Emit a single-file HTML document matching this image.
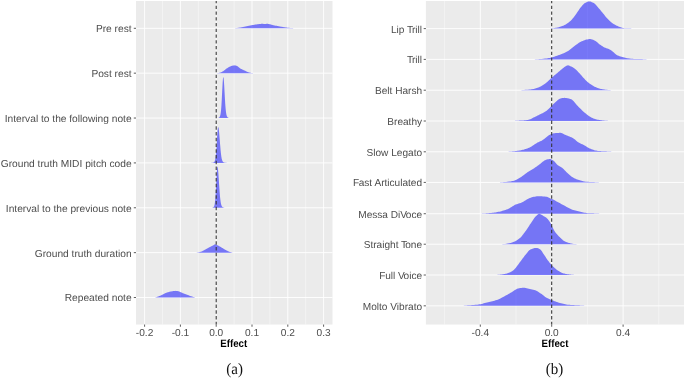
<!DOCTYPE html>
<html><head><meta charset="utf-8"><title>Effect ridgeline plots</title>
<style>html,body{margin:0;padding:0;background:#fff}body{width:685px;height:378px;overflow:hidden}svg{display:block}</style>
</head><body>
<svg width="685" height="378" viewBox="0 0 685 378">
<rect width="685" height="378" fill="#fff"/>
<rect x="136.00" y="1.00" width="196.50" height="323.55" fill="#ebebeb"/>
<line x1="162.50" x2="162.50" y1="1.00" y2="324.55" stroke="#fff" stroke-width="0.5" stroke-opacity="0.85"/>
<line x1="198.30" x2="198.30" y1="1.00" y2="324.55" stroke="#fff" stroke-width="0.5" stroke-opacity="0.85"/>
<line x1="234.10" x2="234.10" y1="1.00" y2="324.55" stroke="#fff" stroke-width="0.5" stroke-opacity="0.85"/>
<line x1="269.90" x2="269.90" y1="1.00" y2="324.55" stroke="#fff" stroke-width="0.5" stroke-opacity="0.85"/>
<line x1="305.70" x2="305.70" y1="1.00" y2="324.55" stroke="#fff" stroke-width="0.5" stroke-opacity="0.85"/>
<line x1="144.60" x2="144.60" y1="1.00" y2="324.55" stroke="#fff" stroke-width="0.9"/>
<line x1="180.40" x2="180.40" y1="1.00" y2="324.55" stroke="#fff" stroke-width="0.9"/>
<line x1="216.20" x2="216.20" y1="1.00" y2="324.55" stroke="#fff" stroke-width="0.9"/>
<line x1="252.00" x2="252.00" y1="1.00" y2="324.55" stroke="#fff" stroke-width="0.9"/>
<line x1="287.80" x2="287.80" y1="1.00" y2="324.55" stroke="#fff" stroke-width="0.9"/>
<line x1="323.60" x2="323.60" y1="1.00" y2="324.55" stroke="#fff" stroke-width="0.9"/>
<line x1="136.00" x2="332.50" y1="28.30" y2="28.30" stroke="#fff" stroke-width="0.9"/>
<line x1="136.00" x2="332.50" y1="73.17" y2="73.17" stroke="#fff" stroke-width="0.9"/>
<line x1="136.00" x2="332.50" y1="118.04" y2="118.04" stroke="#fff" stroke-width="0.9"/>
<line x1="136.00" x2="332.50" y1="162.91" y2="162.91" stroke="#fff" stroke-width="0.9"/>
<line x1="136.00" x2="332.50" y1="207.78" y2="207.78" stroke="#fff" stroke-width="0.9"/>
<line x1="136.00" x2="332.50" y1="252.65" y2="252.65" stroke="#fff" stroke-width="0.9"/>
<line x1="136.00" x2="332.50" y1="297.52" y2="297.52" stroke="#fff" stroke-width="0.9"/>
<rect x="425.90" y="1.00" width="258.10" height="323.55" fill="#ebebeb"/>
<line x1="444.60" x2="444.60" y1="1.00" y2="324.55" stroke="#fff" stroke-width="0.5" stroke-opacity="0.85"/>
<line x1="516.00" x2="516.00" y1="1.00" y2="324.55" stroke="#fff" stroke-width="0.5" stroke-opacity="0.85"/>
<line x1="587.40" x2="587.40" y1="1.00" y2="324.55" stroke="#fff" stroke-width="0.5" stroke-opacity="0.85"/>
<line x1="658.80" x2="658.80" y1="1.00" y2="324.55" stroke="#fff" stroke-width="0.5" stroke-opacity="0.85"/>
<line x1="480.30" x2="480.30" y1="1.00" y2="324.55" stroke="#fff" stroke-width="0.9"/>
<line x1="551.70" x2="551.70" y1="1.00" y2="324.55" stroke="#fff" stroke-width="0.9"/>
<line x1="623.10" x2="623.10" y1="1.00" y2="324.55" stroke="#fff" stroke-width="0.9"/>
<line x1="425.90" x2="684.00" y1="28.60" y2="28.60" stroke="#fff" stroke-width="0.9"/>
<line x1="425.90" x2="684.00" y1="59.40" y2="59.40" stroke="#fff" stroke-width="0.9"/>
<line x1="425.90" x2="684.00" y1="90.21" y2="90.21" stroke="#fff" stroke-width="0.9"/>
<line x1="425.90" x2="684.00" y1="121.01" y2="121.01" stroke="#fff" stroke-width="0.9"/>
<line x1="425.90" x2="684.00" y1="151.81" y2="151.81" stroke="#fff" stroke-width="0.9"/>
<line x1="425.90" x2="684.00" y1="182.42" y2="182.42" stroke="#fff" stroke-width="0.9"/>
<line x1="425.90" x2="684.00" y1="213.72" y2="213.72" stroke="#fff" stroke-width="0.9"/>
<line x1="425.90" x2="684.00" y1="244.22" y2="244.22" stroke="#fff" stroke-width="0.9"/>
<line x1="425.90" x2="684.00" y1="275.02" y2="275.02" stroke="#fff" stroke-width="0.9"/>
<line x1="425.90" x2="684.00" y1="305.83" y2="305.83" stroke="#fff" stroke-width="0.9"/>
<path d="M229.00,28.30 L229.00,28.30 L229.60,28.30 L230.19,28.29 L230.79,28.28 L231.39,28.27 L231.98,28.25 L232.58,28.23 L233.18,28.21 L233.77,28.18 L234.37,28.16 L234.97,28.13 L235.56,28.08 L236.16,28.03 L236.76,27.97 L237.35,27.91 L237.95,27.83 L238.55,27.76 L239.14,27.68 L239.74,27.59 L240.34,27.50 L240.93,27.40 L241.53,27.29 L242.13,27.17 L242.72,27.05 L243.32,26.94 L243.92,26.81 L244.51,26.68 L245.11,26.55 L245.71,26.42 L246.30,26.30 L246.90,26.18 L247.50,26.05 L248.09,25.93 L248.69,25.81 L249.29,25.69 L249.88,25.57 L250.48,25.45 L251.08,25.33 L251.67,25.22 L252.27,25.11 L252.87,25.01 L253.46,24.90 L254.06,24.80 L254.66,24.70 L255.25,24.60 L255.85,24.50 L256.45,24.41 L257.04,24.32 L257.64,24.24 L258.24,24.17 L258.83,24.09 L259.43,24.02 L260.03,23.94 L260.62,23.88 L261.22,23.83 L261.82,23.80 L262.41,23.81 L263.01,23.87 L263.61,23.95 L264.20,24.03 L264.80,24.05 L265.39,24.01 L265.99,23.93 L266.59,23.85 L267.18,23.80 L267.78,23.83 L268.38,23.92 L268.97,24.05 L269.57,24.20 L270.17,24.34 L270.76,24.49 L271.36,24.66 L271.96,24.83 L272.55,24.99 L273.15,25.13 L273.75,25.26 L274.34,25.39 L274.94,25.51 L275.54,25.63 L276.13,25.75 L276.73,25.86 L277.33,25.97 L277.92,26.09 L278.52,26.19 L279.12,26.30 L279.71,26.41 L280.31,26.52 L280.91,26.63 L281.50,26.73 L282.10,26.84 L282.70,26.94 L283.29,27.04 L283.89,27.13 L284.49,27.23 L285.08,27.31 L285.68,27.40 L286.28,27.48 L286.87,27.56 L287.47,27.63 L288.07,27.71 L288.66,27.77 L289.26,27.83 L289.86,27.89 L290.45,27.94 L291.05,27.98 L291.65,28.02 L292.24,28.06 L292.84,28.10 L293.44,28.13 L294.03,28.15 L294.63,28.17 L295.23,28.19 L295.82,28.21 L296.42,28.23 L297.02,28.25 L297.61,28.27 L298.21,28.28 L298.81,28.29 L299.40,28.30 L300.00,28.30 L300.00,28.30 Z" fill="#0000ff" fill-opacity="0.5"/>
<path d="M216.30,73.17 L216.30,73.17 L216.61,73.17 L216.92,73.15 L217.24,73.13 L217.55,73.10 L217.86,73.07 L218.17,73.03 L218.48,72.98 L218.79,72.93 L219.11,72.87 L219.42,72.81 L219.73,72.75 L220.04,72.69 L220.35,72.60 L220.66,72.49 L220.98,72.36 L221.29,72.22 L221.60,72.06 L221.91,71.89 L222.22,71.72 L222.54,71.55 L222.85,71.37 L223.16,71.16 L223.47,70.94 L223.78,70.70 L224.09,70.45 L224.41,70.20 L224.72,69.95 L225.03,69.70 L225.34,69.45 L225.65,69.22 L225.96,68.99 L226.28,68.78 L226.59,68.57 L226.90,68.35 L227.21,68.14 L227.52,67.93 L227.84,67.72 L228.15,67.52 L228.46,67.33 L228.77,67.15 L229.08,66.98 L229.39,66.82 L229.71,66.67 L230.02,66.53 L230.33,66.39 L230.64,66.25 L230.95,66.13 L231.26,66.01 L231.58,65.91 L231.89,65.82 L232.20,65.75 L232.51,65.68 L232.82,65.62 L233.14,65.55 L233.45,65.50 L233.76,65.45 L234.07,65.41 L234.38,65.38 L234.69,65.37 L235.01,65.38 L235.32,65.42 L235.63,65.48 L235.94,65.57 L236.25,65.68 L236.56,65.80 L236.88,65.94 L237.19,66.08 L237.50,66.22 L237.81,66.41 L238.12,66.64 L238.44,66.91 L238.75,67.20 L239.06,67.50 L239.37,67.78 L239.68,68.04 L239.99,68.27 L240.31,68.46 L240.62,68.64 L240.93,68.80 L241.24,68.96 L241.55,69.12 L241.86,69.27 L242.18,69.42 L242.49,69.57 L242.80,69.72 L243.11,69.87 L243.42,70.01 L243.74,70.16 L244.05,70.30 L244.36,70.44 L244.67,70.58 L244.98,70.72 L245.29,70.87 L245.61,71.02 L245.92,71.17 L246.23,71.32 L246.54,71.48 L246.85,71.63 L247.16,71.78 L247.48,71.91 L247.79,72.03 L248.10,72.14 L248.41,72.24 L248.72,72.33 L249.04,72.43 L249.35,72.51 L249.66,72.59 L249.97,72.66 L250.28,72.73 L250.59,72.79 L250.91,72.84 L251.22,72.90 L251.53,72.95 L251.84,73.00 L252.15,73.04 L252.46,73.08 L252.78,73.12 L253.09,73.15 L253.40,73.17 L253.40,73.17 Z" fill="#0000ff" fill-opacity="0.5"/>
<path d="M217.21,118.04 L217.21,118.04 L217.31,118.03 L217.42,118.03 L217.53,118.02 L217.64,118.01 L217.74,118.00 L217.85,117.98 L217.96,117.97 L218.06,117.95 L218.17,117.93 L218.28,117.90 L218.38,117.87 L218.49,117.84 L218.60,117.80 L218.70,117.75 L218.81,117.70 L218.92,117.64 L219.03,117.57 L219.13,117.48 L219.24,117.39 L219.35,117.28 L219.45,117.16 L219.56,117.01 L219.67,116.84 L219.77,116.65 L219.88,116.42 L219.99,116.16 L220.10,115.86 L220.20,115.51 L220.31,115.10 L220.42,114.63 L220.52,114.08 L220.63,113.45 L220.74,112.72 L220.84,111.90 L220.95,110.95 L221.06,109.89 L221.17,108.70 L221.27,107.38 L221.38,105.91 L221.49,104.32 L221.59,102.59 L221.70,100.74 L221.81,98.78 L221.91,96.74 L222.02,94.62 L222.13,92.48 L222.23,90.32 L222.34,88.21 L222.45,86.16 L222.56,84.25 L222.66,82.46 L222.77,80.90 L222.88,79.53 L222.98,78.48 L223.09,77.64 L223.20,77.29 L223.30,77.13 L223.41,77.18 L223.52,77.65 L223.63,78.30 L223.73,79.27 L223.84,80.41 L223.95,81.80 L224.05,83.34 L224.16,85.05 L224.27,86.85 L224.37,88.76 L224.48,90.71 L224.59,92.69 L224.70,94.65 L224.80,96.60 L224.91,98.48 L225.02,100.30 L225.12,102.02 L225.23,103.65 L225.34,105.17 L225.44,106.58 L225.55,107.87 L225.66,109.05 L225.76,110.11 L225.87,111.07 L225.98,111.92 L226.09,112.69 L226.19,113.36 L226.30,113.95 L226.41,114.47 L226.51,114.93 L226.62,115.33 L226.73,115.68 L226.83,115.98 L226.94,116.25 L227.05,116.48 L227.16,116.68 L227.26,116.85 L227.37,117.01 L227.48,117.14 L227.58,117.26 L227.69,117.36 L227.80,117.45 L227.90,117.53 L228.01,117.60 L228.12,117.66 L228.23,117.72 L228.33,117.76 L228.44,117.80 L228.55,117.84 L228.65,117.87 L228.76,117.90 L228.87,117.92 L228.97,117.94 L229.08,117.96 L229.19,117.98 L229.29,117.99 L229.40,118.00 L229.51,118.01 L229.62,118.02 L229.72,118.03 L229.83,118.03 L229.94,118.04 L229.94,118.04 Z" fill="#0000ff" fill-opacity="0.5"/>
<path d="M210.24,162.91 L210.24,162.91 L210.39,162.91 L210.54,162.91 L210.69,162.90 L210.84,162.90 L210.99,162.89 L211.14,162.89 L211.29,162.88 L211.44,162.87 L211.59,162.87 L211.74,162.86 L211.88,162.84 L212.03,162.83 L212.18,162.81 L212.33,162.79 L212.48,162.77 L212.63,162.75 L212.78,162.72 L212.93,162.68 L213.08,162.64 L213.23,162.60 L213.38,162.54 L213.53,162.48 L213.67,162.40 L213.82,162.31 L213.97,162.19 L214.12,162.05 L214.27,161.88 L214.42,161.66 L214.57,161.39 L214.72,161.06 L214.87,160.65 L215.02,160.14 L215.17,159.52 L215.31,158.78 L215.46,157.87 L215.61,156.82 L215.76,155.57 L215.91,154.15 L216.06,152.53 L216.21,150.73 L216.36,148.73 L216.51,146.60 L216.66,144.32 L216.81,141.99 L216.96,139.60 L217.10,137.27 L217.25,135.00 L217.40,132.93 L217.55,131.05 L217.70,129.53 L217.85,128.26 L218.00,127.59 L218.15,127.20 L218.30,127.18 L218.45,127.55 L218.60,128.11 L218.75,129.03 L218.89,130.15 L219.04,131.52 L219.19,133.04 L219.34,134.74 L219.49,136.54 L219.64,138.43 L219.79,140.34 L219.94,142.28 L220.09,144.18 L220.24,146.04 L220.39,147.81 L220.53,149.50 L220.68,151.07 L220.83,152.53 L220.98,153.86 L221.13,155.07 L221.28,156.14 L221.43,157.10 L221.58,157.94 L221.73,158.67 L221.88,159.30 L222.03,159.85 L222.18,160.31 L222.32,160.70 L222.47,161.04 L222.62,161.32 L222.77,161.55 L222.92,161.75 L223.07,161.91 L223.22,162.05 L223.37,162.17 L223.52,162.27 L223.67,162.35 L223.82,162.42 L223.97,162.48 L224.11,162.54 L224.26,162.58 L224.41,162.62 L224.56,162.66 L224.71,162.69 L224.86,162.72 L225.01,162.74 L225.16,162.76 L225.31,162.78 L225.46,162.80 L225.61,162.81 L225.75,162.83 L225.90,162.84 L226.05,162.85 L226.20,162.86 L226.35,162.87 L226.50,162.87 L226.65,162.88 L226.80,162.89 L226.95,162.89 L227.10,162.89 L227.25,162.90 L227.40,162.90 L227.54,162.90 L227.69,162.91 L227.84,162.91 L227.99,162.91 L227.99,162.91 Z" fill="#0000ff" fill-opacity="0.5"/>
<path d="M210.36,207.78 L210.36,207.78 L210.50,207.78 L210.64,207.77 L210.78,207.77 L210.92,207.77 L211.06,207.76 L211.20,207.75 L211.33,207.75 L211.47,207.74 L211.61,207.72 L211.75,207.71 L211.89,207.69 L212.03,207.68 L212.17,207.65 L212.31,207.63 L212.44,207.60 L212.58,207.56 L212.72,207.52 L212.86,207.48 L213.00,207.42 L213.14,207.35 L213.28,207.27 L213.42,207.18 L213.56,207.06 L213.69,206.91 L213.83,206.73 L213.97,206.50 L214.11,206.22 L214.25,205.86 L214.39,205.41 L214.53,204.85 L214.67,204.15 L214.81,203.31 L214.94,202.26 L215.08,201.03 L215.22,199.56 L215.36,197.87 L215.50,195.92 L215.64,193.74 L215.78,191.31 L215.92,188.71 L216.06,185.93 L216.19,183.09 L216.33,180.18 L216.47,177.38 L216.61,174.68 L216.75,172.28 L216.89,170.13 L217.03,168.51 L217.17,167.19 L217.30,166.76 L217.44,166.63 L217.58,166.69 L217.72,167.32 L217.86,168.15 L218.00,169.31 L218.14,170.66 L218.28,172.27 L218.42,174.04 L218.55,175.97 L218.69,177.99 L218.83,180.11 L218.97,182.23 L219.11,184.38 L219.25,186.48 L219.39,188.53 L219.53,190.49 L219.67,192.36 L219.80,194.10 L219.94,195.72 L220.08,197.20 L220.22,198.56 L220.36,199.77 L220.50,200.86 L220.64,201.81 L220.78,202.66 L220.92,203.39 L221.05,204.03 L221.19,204.57 L221.33,205.04 L221.47,205.44 L221.61,205.78 L221.75,206.07 L221.89,206.31 L222.03,206.51 L222.16,206.68 L222.30,206.83 L222.44,206.95 L222.58,207.06 L222.72,207.15 L222.86,207.23 L223.00,207.29 L223.14,207.35 L223.28,207.40 L223.41,207.45 L223.55,207.49 L223.69,207.52 L223.83,207.55 L223.97,207.58 L224.11,207.60 L224.25,207.63 L224.39,207.65 L224.53,207.66 L224.66,207.68 L224.80,207.69 L224.94,207.70 L225.08,207.72 L225.22,207.73 L225.36,207.73 L225.50,207.74 L225.64,207.75 L225.78,207.75 L225.91,207.76 L226.05,207.76 L226.19,207.77 L226.33,207.77 L226.47,207.77 L226.61,207.78 L226.75,207.78 L226.89,207.78 L226.89,207.78 Z" fill="#0000ff" fill-opacity="0.5"/>
<path d="M196.60,252.65 L196.60,252.65 L196.90,252.62 L197.20,252.59 L197.51,252.54 L197.81,252.49 L198.11,252.44 L198.41,252.38 L198.71,252.31 L199.01,252.24 L199.32,252.17 L199.62,252.09 L199.92,252.00 L200.22,251.92 L200.52,251.83 L200.82,251.74 L201.13,251.64 L201.43,251.53 L201.73,251.41 L202.03,251.28 L202.33,251.13 L202.63,250.98 L202.94,250.82 L203.24,250.66 L203.54,250.50 L203.84,250.33 L204.14,250.17 L204.44,250.00 L204.75,249.84 L205.05,249.68 L205.35,249.52 L205.65,249.36 L205.95,249.20 L206.25,249.04 L206.56,248.87 L206.86,248.70 L207.16,248.54 L207.46,248.37 L207.76,248.20 L208.06,248.03 L208.37,247.86 L208.67,247.70 L208.97,247.53 L209.27,247.37 L209.57,247.21 L209.87,247.05 L210.18,246.90 L210.48,246.74 L210.78,246.58 L211.08,246.43 L211.38,246.27 L211.68,246.12 L211.99,245.96 L212.29,245.81 L212.59,245.66 L212.89,245.51 L213.19,245.35 L213.49,245.16 L213.80,244.96 L214.10,244.76 L214.40,244.59 L214.70,244.45 L215.00,244.37 L215.30,244.35 L215.61,244.40 L215.91,244.50 L216.21,244.63 L216.51,244.78 L216.81,244.95 L217.11,245.11 L217.42,245.26 L217.72,245.40 L218.02,245.55 L218.32,245.70 L218.62,245.86 L218.92,246.02 L219.23,246.18 L219.53,246.35 L219.83,246.52 L220.13,246.69 L220.43,246.87 L220.73,247.04 L221.04,247.21 L221.34,247.39 L221.64,247.56 L221.94,247.73 L222.24,247.91 L222.54,248.09 L222.85,248.27 L223.15,248.45 L223.45,248.64 L223.75,248.83 L224.05,249.01 L224.35,249.20 L224.66,249.38 L224.96,249.56 L225.26,249.74 L225.56,249.91 L225.86,250.07 L226.16,250.23 L226.47,250.39 L226.77,250.54 L227.07,250.69 L227.37,250.84 L227.67,250.99 L227.97,251.13 L228.28,251.27 L228.58,251.41 L228.88,251.54 L229.18,251.66 L229.48,251.77 L229.78,251.88 L230.09,251.98 L230.39,252.08 L230.69,252.18 L230.99,252.27 L231.29,252.35 L231.59,252.44 L231.90,252.51 L232.20,252.58 L232.50,252.65 L232.50,252.65 Z" fill="#0000ff" fill-opacity="0.5"/>
<path d="M154.80,297.52 L154.80,297.52 L155.15,297.44 L155.49,297.35 L155.84,297.26 L156.18,297.16 L156.53,297.06 L156.88,296.95 L157.22,296.84 L157.57,296.73 L157.92,296.61 L158.26,296.49 L158.61,296.36 L158.95,296.24 L159.30,296.10 L159.65,295.96 L159.99,295.81 L160.34,295.66 L160.69,295.49 L161.03,295.33 L161.38,295.16 L161.72,294.99 L162.07,294.82 L162.42,294.66 L162.76,294.49 L163.11,294.32 L163.46,294.14 L163.80,293.96 L164.15,293.78 L164.49,293.61 L164.84,293.43 L165.19,293.27 L165.53,293.11 L165.88,292.97 L166.23,292.83 L166.57,292.71 L166.92,292.59 L167.26,292.47 L167.61,292.35 L167.96,292.25 L168.30,292.14 L168.65,292.04 L168.99,291.95 L169.34,291.86 L169.69,291.77 L170.03,291.69 L170.38,291.61 L170.73,291.53 L171.07,291.46 L171.42,291.38 L171.76,291.32 L172.11,291.25 L172.46,291.20 L172.80,291.15 L173.15,291.10 L173.50,291.05 L173.84,291.01 L174.19,290.97 L174.53,290.93 L174.88,290.90 L175.23,290.88 L175.57,290.87 L175.92,290.88 L176.27,290.90 L176.61,290.93 L176.96,290.98 L177.30,291.03 L177.65,291.10 L178.00,291.16 L178.34,291.23 L178.69,291.32 L179.04,291.44 L179.38,291.58 L179.73,291.73 L180.07,291.89 L180.42,292.06 L180.77,292.21 L181.11,292.36 L181.46,292.51 L181.81,292.67 L182.15,292.83 L182.50,292.99 L182.84,293.14 L183.19,293.29 L183.54,293.43 L183.88,293.57 L184.23,293.71 L184.57,293.84 L184.92,293.96 L185.27,294.09 L185.61,294.22 L185.96,294.34 L186.31,294.47 L186.65,294.59 L187.00,294.72 L187.34,294.85 L187.69,294.98 L188.04,295.11 L188.38,295.24 L188.73,295.37 L189.08,295.50 L189.42,295.63 L189.77,295.76 L190.11,295.88 L190.46,296.01 L190.81,296.13 L191.15,296.25 L191.50,296.37 L191.85,296.49 L192.19,296.60 L192.54,296.72 L192.88,296.82 L193.23,296.92 L193.58,297.01 L193.92,297.10 L194.27,297.18 L194.62,297.26 L194.96,297.33 L195.31,297.40 L195.65,297.46 L196.00,297.52 L196.00,297.52 Z" fill="#0000ff" fill-opacity="0.5"/>
<path d="M546.82,28.60 L546.82,28.60 L547.56,28.58 L548.30,28.55 L549.04,28.51 L549.78,28.46 L550.51,28.41 L551.25,28.35 L551.99,28.29 L552.73,28.21 L553.47,28.13 L554.20,28.04 L554.94,27.93 L555.68,27.81 L556.42,27.68 L557.16,27.54 L557.89,27.39 L558.63,27.23 L559.37,27.05 L560.11,26.84 L560.84,26.61 L561.58,26.35 L562.32,26.06 L563.06,25.76 L563.80,25.43 L564.53,25.09 L565.27,24.72 L566.01,24.32 L566.75,23.86 L567.49,23.36 L568.22,22.82 L568.96,22.24 L569.70,21.62 L570.44,20.96 L571.18,20.27 L571.91,19.48 L572.65,18.60 L573.39,17.66 L574.13,16.67 L574.87,15.65 L575.60,14.63 L576.34,13.63 L577.08,12.62 L577.82,11.55 L578.55,10.46 L579.29,9.37 L580.03,8.32 L580.77,7.35 L581.51,6.47 L582.24,5.60 L582.98,4.75 L583.72,3.99 L584.46,3.35 L585.20,2.89 L585.93,2.50 L586.67,2.14 L587.41,1.83 L588.15,1.60 L588.89,1.48 L589.62,1.48 L590.36,1.61 L591.10,1.83 L591.84,2.13 L592.57,2.47 L593.31,2.84 L594.05,3.26 L594.79,3.84 L595.53,4.56 L596.26,5.36 L597.00,6.21 L597.74,7.07 L598.48,7.90 L599.22,8.73 L599.95,9.61 L600.69,10.50 L601.43,11.41 L602.17,12.32 L602.91,13.22 L603.64,14.12 L604.38,15.05 L605.12,15.99 L605.86,16.91 L606.59,17.79 L607.33,18.62 L608.07,19.37 L608.81,20.08 L609.55,20.77 L610.28,21.42 L611.02,22.05 L611.76,22.64 L612.50,23.18 L613.24,23.68 L613.97,24.15 L614.71,24.58 L615.45,25.00 L616.19,25.39 L616.93,25.76 L617.66,26.10 L618.40,26.41 L619.14,26.68 L619.88,26.94 L620.61,27.21 L621.35,27.46 L622.09,27.70 L622.83,27.91 L623.57,28.07 L624.30,28.18 L625.04,28.22 L625.78,28.24 L626.52,28.25 L627.26,28.26 L627.99,28.27 L628.73,28.28 L629.47,28.30 L630.21,28.32 L630.95,28.35 L631.68,28.39 L632.42,28.43 L633.16,28.48 L633.90,28.54 L634.64,28.60 L634.64,28.60 Z" fill="#0000ff" fill-opacity="0.5"/>
<path d="M534.49,59.40 L534.49,59.40 L535.43,59.36 L536.38,59.31 L537.32,59.25 L538.27,59.19 L539.22,59.12 L540.16,59.05 L541.11,58.98 L542.05,58.90 L543.00,58.81 L543.94,58.72 L544.89,58.62 L545.83,58.51 L546.78,58.39 L547.72,58.26 L548.67,58.12 L549.61,57.96 L550.56,57.77 L551.50,57.54 L552.45,57.28 L553.39,56.99 L554.34,56.68 L555.28,56.36 L556.23,56.03 L557.17,55.69 L558.12,55.35 L559.06,55.01 L560.01,54.67 L560.96,54.31 L561.90,53.93 L562.85,53.55 L563.79,53.14 L564.74,52.71 L565.68,52.26 L566.63,51.78 L567.57,51.27 L568.52,50.71 L569.46,50.07 L570.41,49.34 L571.35,48.57 L572.30,47.77 L573.24,46.97 L574.19,46.19 L575.13,45.46 L576.08,44.80 L577.02,44.14 L577.97,43.49 L578.91,42.87 L579.86,42.29 L580.81,41.77 L581.75,41.33 L582.70,40.90 L583.64,40.50 L584.59,40.13 L585.53,39.82 L586.48,39.57 L587.42,39.38 L588.37,39.22 L589.31,39.11 L590.26,39.12 L591.20,39.26 L592.15,39.52 L593.09,39.85 L594.04,40.23 L594.98,40.64 L595.93,41.24 L596.87,41.99 L597.82,42.82 L598.76,43.65 L599.71,44.42 L600.65,45.08 L601.60,45.71 L602.55,46.32 L603.49,46.89 L604.44,47.39 L605.38,47.81 L606.33,48.13 L607.27,48.42 L608.22,48.74 L609.16,49.16 L610.11,49.71 L611.05,50.35 L612.00,51.03 L612.94,51.72 L613.89,52.53 L614.83,53.39 L615.78,54.21 L616.72,54.91 L617.67,55.40 L618.61,55.81 L619.56,56.19 L620.50,56.53 L621.45,56.83 L622.39,57.10 L623.34,57.35 L624.29,57.57 L625.23,57.76 L626.18,57.96 L627.12,58.14 L628.07,58.31 L629.01,58.46 L629.96,58.60 L630.90,58.71 L631.85,58.79 L632.79,58.85 L633.74,58.89 L634.68,58.92 L635.63,58.94 L636.57,58.97 L637.52,58.98 L638.46,59.00 L639.41,59.02 L640.35,59.05 L641.30,59.08 L642.24,59.11 L643.19,59.16 L644.14,59.21 L645.08,59.27 L646.03,59.34 L646.97,59.40 L646.97,59.40 Z" fill="#0000ff" fill-opacity="0.5"/>
<path d="M519.60,90.21 L519.60,90.21 L520.38,90.17 L521.16,90.13 L521.94,90.08 L522.72,90.03 L523.50,89.98 L524.28,89.93 L525.07,89.87 L525.85,89.82 L526.63,89.76 L527.41,89.70 L528.19,89.63 L528.97,89.57 L529.75,89.49 L530.53,89.41 L531.31,89.32 L532.09,89.22 L532.87,89.11 L533.66,88.98 L534.44,88.81 L535.22,88.60 L536.00,88.36 L536.78,88.09 L537.56,87.79 L538.34,87.48 L539.12,87.14 L539.90,86.79 L540.68,86.43 L541.47,86.04 L542.25,85.60 L543.03,85.10 L543.81,84.57 L544.59,84.01 L545.37,83.43 L546.15,82.83 L546.93,82.20 L547.71,81.52 L548.49,80.79 L549.28,80.03 L550.06,79.26 L550.84,78.51 L551.62,77.79 L552.40,77.10 L553.18,76.43 L553.96,75.76 L554.74,75.11 L555.52,74.46 L556.30,73.81 L557.08,73.16 L557.87,72.51 L558.65,71.84 L559.43,71.16 L560.21,70.47 L560.99,69.79 L561.77,69.13 L562.55,68.51 L563.33,67.93 L564.11,67.36 L564.89,66.75 L565.68,66.16 L566.46,65.68 L567.24,65.39 L568.02,65.36 L568.80,65.53 L569.58,65.81 L570.36,66.16 L571.14,66.50 L571.92,66.87 L572.70,67.30 L573.48,67.78 L574.27,68.31 L575.05,68.88 L575.83,69.53 L576.61,70.28 L577.39,71.08 L578.17,71.92 L578.95,72.77 L579.73,73.61 L580.51,74.47 L581.29,75.36 L582.08,76.27 L582.86,77.18 L583.64,78.04 L584.42,78.86 L585.20,79.64 L585.98,80.41 L586.76,81.16 L587.54,81.89 L588.32,82.58 L589.10,83.22 L589.88,83.81 L590.67,84.35 L591.45,84.86 L592.23,85.35 L593.01,85.80 L593.79,86.23 L594.57,86.63 L595.35,86.99 L596.13,87.32 L596.91,87.64 L597.69,87.94 L598.48,88.23 L599.26,88.49 L600.04,88.73 L600.82,88.93 L601.60,89.09 L602.38,89.24 L603.16,89.37 L603.94,89.49 L604.72,89.60 L605.50,89.70 L606.29,89.79 L607.07,89.87 L607.85,89.93 L608.63,89.99 L609.41,90.05 L610.19,90.10 L610.97,90.15 L611.75,90.18 L612.53,90.21 L612.53,90.21 Z" fill="#0000ff" fill-opacity="0.5"/>
<path d="M512.96,121.01 L512.96,121.01 L513.78,120.96 L514.60,120.91 L515.42,120.87 L516.24,120.82 L517.06,120.77 L517.88,120.71 L518.70,120.66 L519.52,120.62 L520.34,120.58 L521.16,120.53 L521.99,120.49 L522.81,120.45 L523.63,120.40 L524.45,120.34 L525.27,120.28 L526.09,120.21 L526.91,120.12 L527.73,120.02 L528.55,119.84 L529.37,119.58 L530.19,119.26 L531.01,118.88 L531.84,118.47 L532.66,118.04 L533.48,117.61 L534.30,117.19 L535.12,116.80 L535.94,116.41 L536.76,116.01 L537.58,115.60 L538.40,115.18 L539.22,114.76 L540.04,114.34 L540.86,113.92 L541.69,113.52 L542.51,113.13 L543.33,112.73 L544.15,112.30 L544.97,111.84 L545.79,111.31 L546.61,110.69 L547.43,109.99 L548.25,109.23 L549.07,108.44 L549.89,107.63 L550.71,106.83 L551.54,106.04 L552.36,105.20 L553.18,104.33 L554.00,103.46 L554.82,102.63 L555.64,101.88 L556.46,101.20 L557.28,100.51 L558.10,99.84 L558.92,99.25 L559.74,98.77 L560.56,98.45 L561.39,98.26 L562.21,98.09 L563.03,97.96 L563.85,97.88 L564.67,97.86 L565.49,97.92 L566.31,98.03 L567.13,98.19 L567.95,98.36 L568.77,98.54 L569.59,98.76 L570.41,99.03 L571.24,99.36 L572.06,99.76 L572.88,100.39 L573.70,101.29 L574.52,102.32 L575.34,103.36 L576.16,104.27 L576.98,105.15 L577.80,106.02 L578.62,106.89 L579.44,107.73 L580.26,108.55 L581.09,109.35 L581.91,110.14 L582.73,110.91 L583.55,111.68 L584.37,112.41 L585.19,113.11 L586.01,113.78 L586.83,114.41 L587.65,115.04 L588.47,115.65 L589.29,116.23 L590.11,116.77 L590.94,117.26 L591.76,117.68 L592.58,118.05 L593.40,118.39 L594.22,118.70 L595.04,118.99 L595.86,119.24 L596.68,119.46 L597.50,119.65 L598.32,119.80 L599.14,119.94 L599.96,120.07 L600.79,120.19 L601.61,120.30 L602.43,120.40 L603.25,120.49 L604.07,120.57 L604.89,120.65 L605.71,120.71 L606.53,120.78 L607.35,120.84 L608.17,120.89 L608.99,120.94 L609.81,120.98 L610.64,121.01 L610.64,121.01 Z" fill="#0000ff" fill-opacity="0.5"/>
<path d="M505.36,151.81 L505.36,151.81 L506.28,151.77 L507.20,151.72 L508.11,151.67 L509.03,151.61 L509.95,151.54 L510.86,151.47 L511.78,151.40 L512.70,151.33 L513.61,151.24 L514.53,151.16 L515.45,151.06 L516.36,150.96 L517.28,150.85 L518.20,150.73 L519.11,150.60 L520.03,150.46 L520.95,150.29 L521.86,150.09 L522.78,149.87 L523.70,149.63 L524.61,149.35 L525.53,149.06 L526.44,148.75 L527.36,148.41 L528.28,148.06 L529.19,147.70 L530.11,147.28 L531.03,146.78 L531.94,146.21 L532.86,145.59 L533.78,144.95 L534.69,144.31 L535.61,143.70 L536.53,143.13 L537.44,142.62 L538.36,142.17 L539.28,141.74 L540.19,141.32 L541.11,140.88 L542.03,140.39 L542.94,139.85 L543.86,139.19 L544.78,138.44 L545.69,137.66 L546.61,136.90 L547.52,136.20 L548.44,135.61 L549.36,135.06 L550.27,134.51 L551.19,134.02 L552.11,133.64 L553.02,133.41 L553.94,133.29 L554.86,133.18 L555.77,133.08 L556.69,133.00 L557.61,132.94 L558.52,132.88 L559.44,132.85 L560.36,132.83 L561.27,132.90 L562.19,133.20 L563.11,133.66 L564.02,134.19 L564.94,134.70 L565.86,135.11 L566.77,135.48 L567.69,135.84 L568.60,136.19 L569.52,136.55 L570.44,136.92 L571.35,137.32 L572.27,137.76 L573.19,138.26 L574.10,138.88 L575.02,139.60 L575.94,140.38 L576.85,141.16 L577.77,141.89 L578.69,142.51 L579.60,143.04 L580.52,143.51 L581.44,143.94 L582.35,144.37 L583.27,144.80 L584.19,145.26 L585.10,145.76 L586.02,146.32 L586.94,146.89 L587.85,147.45 L588.77,147.97 L589.68,148.42 L590.60,148.80 L591.52,149.16 L592.43,149.51 L593.35,149.84 L594.27,150.14 L595.18,150.40 L596.10,150.62 L597.02,150.78 L597.93,150.89 L598.85,150.97 L599.77,151.04 L600.68,151.10 L601.60,151.15 L602.52,151.20 L603.43,151.24 L604.35,151.28 L605.27,151.32 L606.18,151.36 L607.10,151.40 L608.02,151.44 L608.93,151.48 L609.85,151.54 L610.76,151.59 L611.68,151.64 L612.60,151.70 L613.51,151.76 L614.43,151.81 L614.43,151.81 Z" fill="#0000ff" fill-opacity="0.5"/>
<path d="M498.72,182.42 L498.72,182.42 L499.57,182.38 L500.41,182.34 L501.26,182.29 L502.10,182.23 L502.95,182.17 L503.79,182.11 L504.64,182.04 L505.48,181.97 L506.33,181.89 L507.17,181.81 L508.01,181.71 L508.86,181.61 L509.70,181.50 L510.55,181.38 L511.39,181.24 L512.24,181.09 L513.08,180.92 L513.93,180.72 L514.77,180.43 L515.62,180.07 L516.46,179.65 L517.31,179.19 L518.15,178.70 L519.00,178.19 L519.84,177.68 L520.69,177.17 L521.53,176.65 L522.38,176.08 L523.22,175.47 L524.07,174.84 L524.91,174.20 L525.75,173.56 L526.60,172.94 L527.44,172.36 L528.29,171.81 L529.13,171.27 L529.98,170.75 L530.82,170.24 L531.67,169.74 L532.51,169.22 L533.36,168.70 L534.20,168.16 L535.05,167.60 L535.89,167.02 L536.74,166.41 L537.58,165.79 L538.43,165.15 L539.27,164.52 L540.12,163.89 L540.96,163.27 L541.81,162.59 L542.65,161.87 L543.49,161.18 L544.34,160.58 L545.18,160.13 L546.03,159.84 L546.87,159.58 L547.72,159.35 L548.56,159.18 L549.41,159.09 L550.25,159.11 L551.10,159.35 L551.94,159.76 L552.79,160.24 L553.63,160.79 L554.48,161.58 L555.32,162.51 L556.17,163.49 L557.01,164.42 L557.86,165.18 L558.70,165.78 L559.54,166.30 L560.39,166.78 L561.23,167.28 L562.08,167.83 L562.92,168.48 L563.77,169.27 L564.61,170.15 L565.46,171.06 L566.30,171.96 L567.15,172.79 L567.99,173.55 L568.84,174.30 L569.68,175.04 L570.53,175.75 L571.37,176.41 L572.22,177.01 L573.06,177.52 L573.91,177.97 L574.75,178.39 L575.60,178.78 L576.44,179.13 L577.28,179.46 L578.13,179.76 L578.97,180.04 L579.82,180.32 L580.66,180.59 L581.51,180.85 L582.35,181.09 L583.20,181.31 L584.04,181.48 L584.89,181.61 L585.73,181.69 L586.58,181.75 L587.42,181.81 L588.27,181.85 L589.11,181.89 L589.96,181.93 L590.80,181.96 L591.65,182.00 L592.49,182.03 L593.33,182.07 L594.18,182.11 L595.02,182.16 L595.87,182.21 L596.71,182.26 L597.56,182.31 L598.40,182.36 L599.25,182.42 L599.25,182.42 Z" fill="#0000ff" fill-opacity="0.5"/>
<path d="M480.18,213.72 L480.18,213.72 L481.19,213.67 L482.21,213.61 L483.22,213.55 L484.23,213.49 L485.24,213.41 L486.26,213.34 L487.27,213.26 L488.28,213.17 L489.29,213.08 L490.30,212.98 L491.32,212.88 L492.33,212.77 L493.34,212.65 L494.35,212.52 L495.37,212.38 L496.38,212.23 L497.39,212.06 L498.40,211.87 L499.41,211.65 L500.43,211.41 L501.44,211.15 L502.45,210.86 L503.46,210.56 L504.48,210.23 L505.49,209.89 L506.50,209.52 L507.51,209.14 L508.52,208.73 L509.54,208.21 L510.55,207.60 L511.56,206.94 L512.57,206.28 L513.59,205.64 L514.60,205.06 L515.61,204.58 L516.62,204.21 L517.63,203.88 L518.65,203.59 L519.66,203.28 L520.67,202.94 L521.68,202.51 L522.70,201.98 L523.71,201.39 L524.72,200.76 L525.73,200.14 L526.74,199.58 L527.76,199.07 L528.77,198.56 L529.78,198.08 L530.79,197.67 L531.81,197.36 L532.82,197.11 L533.83,196.87 L534.84,196.65 L535.85,196.47 L536.87,196.34 L537.88,196.27 L538.89,196.26 L539.90,196.28 L540.91,196.31 L541.93,196.35 L542.94,196.41 L543.95,196.48 L544.96,196.55 L545.98,196.64 L546.99,196.84 L548.00,197.19 L549.01,197.65 L550.02,198.15 L551.04,198.65 L552.05,199.12 L553.06,199.59 L554.07,200.09 L555.09,200.61 L556.10,201.13 L557.11,201.66 L558.12,202.20 L559.13,202.75 L560.15,203.31 L561.16,203.88 L562.17,204.45 L563.18,205.02 L564.20,205.57 L565.21,206.10 L566.22,206.66 L567.23,207.22 L568.24,207.78 L569.26,208.32 L570.27,208.82 L571.28,209.28 L572.29,209.67 L573.31,210.00 L574.32,210.29 L575.33,210.56 L576.34,210.80 L577.35,211.03 L578.37,211.26 L579.38,211.48 L580.39,211.70 L581.40,211.94 L582.42,212.19 L583.43,212.44 L584.44,212.67 L585.45,212.87 L586.46,213.03 L587.48,213.14 L588.49,213.19 L589.50,213.23 L590.51,213.27 L591.53,213.29 L592.54,213.32 L593.55,213.35 L594.56,213.38 L595.57,213.42 L596.59,213.46 L597.60,213.52 L598.61,213.58 L599.62,213.65 L600.64,213.72 L600.64,213.72 Z" fill="#0000ff" fill-opacity="0.5"/>
<path d="M500.11,244.22 L500.11,244.22 L500.77,244.21 L501.43,244.19 L502.09,244.16 L502.75,244.12 L503.42,244.07 L504.08,244.01 L504.74,243.95 L505.40,243.89 L506.06,243.82 L506.72,243.73 L507.38,243.62 L508.05,243.51 L508.71,243.37 L509.37,243.23 L510.03,243.07 L510.69,242.90 L511.35,242.72 L512.01,242.53 L512.68,242.33 L513.34,242.11 L514.00,241.84 L514.66,241.54 L515.32,241.20 L515.98,240.83 L516.64,240.43 L517.30,240.00 L517.97,239.55 L518.63,239.07 L519.29,238.57 L519.95,238.02 L520.61,237.38 L521.27,236.67 L521.93,235.90 L522.60,235.08 L523.26,234.23 L523.92,233.36 L524.58,232.49 L525.24,231.61 L525.90,230.70 L526.56,229.73 L527.22,228.73 L527.89,227.71 L528.55,226.67 L529.21,225.64 L529.87,224.62 L530.53,223.63 L531.19,222.66 L531.85,221.65 L532.52,220.63 L533.18,219.63 L533.84,218.67 L534.50,217.79 L535.16,217.02 L535.82,216.36 L536.48,215.68 L537.15,215.03 L537.81,214.46 L538.47,214.05 L539.13,213.86 L539.79,213.92 L540.45,214.15 L541.11,214.50 L541.77,214.93 L542.44,215.37 L543.10,215.77 L543.76,216.14 L544.42,216.52 L545.08,216.91 L545.74,217.35 L546.40,217.84 L547.07,218.41 L547.73,219.11 L548.39,219.93 L549.05,220.85 L549.71,221.84 L550.37,222.89 L551.03,224.00 L551.69,225.31 L552.36,226.75 L553.02,228.21 L553.68,229.58 L554.34,230.76 L555.00,231.74 L555.66,232.65 L556.32,233.49 L556.99,234.28 L557.65,235.02 L558.31,235.73 L558.97,236.40 L559.63,237.06 L560.29,237.72 L560.95,238.37 L561.62,239.00 L562.28,239.60 L562.94,240.15 L563.60,240.64 L564.26,241.05 L564.92,241.39 L565.58,241.67 L566.24,241.95 L566.91,242.21 L567.57,242.45 L568.23,242.68 L568.89,242.90 L569.55,243.09 L570.21,243.27 L570.87,243.44 L571.54,243.58 L572.20,243.71 L572.86,243.81 L573.52,243.89 L574.18,243.96 L574.84,244.01 L575.50,244.07 L576.16,244.12 L576.83,244.16 L577.49,244.19 L578.15,244.21 L578.81,244.22 L578.81,244.22 Z" fill="#0000ff" fill-opacity="0.5"/>
<path d="M494.34,275.02 L494.34,275.02 L495.04,275.00 L495.73,274.98 L496.42,274.94 L497.12,274.90 L497.81,274.85 L498.50,274.79 L499.20,274.74 L499.89,274.68 L500.58,274.61 L501.28,274.53 L501.97,274.44 L502.66,274.34 L503.36,274.23 L504.05,274.12 L504.74,273.99 L505.44,273.85 L506.13,273.70 L506.82,273.53 L507.51,273.35 L508.21,273.12 L508.90,272.84 L509.59,272.53 L510.29,272.18 L510.98,271.80 L511.67,271.38 L512.37,270.94 L513.06,270.46 L513.75,269.95 L514.45,269.33 L515.14,268.59 L515.83,267.74 L516.53,266.83 L517.22,265.87 L517.91,264.90 L518.61,263.94 L519.30,263.03 L519.99,262.12 L520.69,261.18 L521.38,260.23 L522.07,259.26 L522.77,258.31 L523.46,257.38 L524.15,256.47 L524.85,255.62 L525.54,254.77 L526.23,253.89 L526.93,253.00 L527.62,252.13 L528.31,251.32 L529.01,250.59 L529.70,249.99 L530.39,249.53 L531.09,249.22 L531.78,248.94 L532.47,248.68 L533.16,248.44 L533.86,248.24 L534.55,248.08 L535.24,247.96 L535.94,247.90 L536.63,247.90 L537.32,248.02 L538.02,248.25 L538.71,248.57 L539.40,248.96 L540.10,249.37 L540.79,249.94 L541.48,250.78 L542.18,251.79 L542.87,252.88 L543.56,253.97 L544.26,254.98 L544.95,256.03 L545.64,257.11 L546.34,258.18 L547.03,259.23 L547.72,260.20 L548.42,261.12 L549.11,262.02 L549.80,262.90 L550.50,263.74 L551.19,264.54 L551.88,265.30 L552.58,266.01 L553.27,266.68 L553.96,267.33 L554.66,267.96 L555.35,268.56 L556.04,269.13 L556.74,269.67 L557.43,270.17 L558.12,270.63 L558.82,271.06 L559.51,271.49 L560.20,271.90 L560.89,272.29 L561.59,272.65 L562.28,272.97 L562.97,273.24 L563.67,273.45 L564.36,273.62 L565.05,273.77 L565.75,273.91 L566.44,274.04 L567.13,274.16 L567.83,274.27 L568.52,274.37 L569.21,274.46 L569.91,274.54 L570.60,274.61 L571.29,274.68 L571.99,274.74 L572.68,274.79 L573.37,274.84 L574.07,274.89 L574.76,274.94 L575.45,274.97 L576.15,275.00 L576.84,275.02 L576.84,275.02 Z" fill="#0000ff" fill-opacity="0.5"/>
<path d="M460.18,305.83 L460.18,305.83 L461.26,305.77 L462.33,305.70 L463.40,305.64 L464.47,305.57 L465.55,305.50 L466.62,305.43 L467.69,305.37 L468.76,305.30 L469.84,305.23 L470.91,305.16 L471.98,305.09 L473.06,305.01 L474.13,304.93 L475.20,304.84 L476.27,304.74 L477.35,304.63 L478.42,304.50 L479.49,304.35 L480.57,304.15 L481.64,303.91 L482.71,303.64 L483.78,303.36 L484.86,303.06 L485.93,302.76 L487.00,302.47 L488.08,302.19 L489.15,301.93 L490.22,301.68 L491.29,301.43 L492.37,301.18 L493.44,300.92 L494.51,300.64 L495.59,300.34 L496.66,300.02 L497.73,299.65 L498.80,299.22 L499.88,298.73 L500.95,298.19 L502.02,297.61 L503.09,297.02 L504.17,296.43 L505.24,295.85 L506.31,295.26 L507.39,294.65 L508.46,294.03 L509.53,293.40 L510.60,292.77 L511.68,292.14 L512.75,291.52 L513.82,290.83 L514.90,290.09 L515.97,289.38 L517.04,288.79 L518.11,288.41 L519.19,288.23 L520.26,288.07 L521.33,287.94 L522.41,287.85 L523.48,287.80 L524.55,287.82 L525.62,287.95 L526.70,288.17 L527.77,288.45 L528.84,288.73 L529.92,288.98 L530.99,289.20 L532.06,289.41 L533.13,289.64 L534.21,289.91 L535.28,290.22 L536.35,290.65 L537.42,291.23 L538.50,291.91 L539.57,292.64 L540.64,293.38 L541.72,294.11 L542.79,294.93 L543.86,295.79 L544.93,296.63 L546.01,297.39 L547.08,298.01 L548.15,298.55 L549.23,299.03 L550.30,299.47 L551.37,299.89 L552.44,300.31 L553.52,300.73 L554.59,301.14 L555.66,301.54 L556.74,301.92 L557.81,302.29 L558.88,302.63 L559.95,302.95 L561.03,303.24 L562.10,303.54 L563.17,303.83 L564.24,304.09 L565.32,304.33 L566.39,304.53 L567.46,304.67 L568.54,304.77 L569.61,304.85 L570.68,304.93 L571.75,305.00 L572.83,305.06 L573.90,305.12 L574.97,305.17 L576.05,305.21 L577.12,305.26 L578.19,305.30 L579.26,305.35 L580.34,305.40 L581.41,305.45 L582.48,305.51 L583.56,305.57 L584.63,305.63 L585.70,305.70 L586.77,305.76 L587.85,305.83 L587.85,305.83 Z" fill="#0000ff" fill-opacity="0.5"/>
<line x1="216.20" x2="216.20" y1="324.55" y2="1.00" stroke="#303030" stroke-width="1.05" stroke-dasharray="3.4 2.347" stroke-dashoffset="0.6"/>
<line x1="551.70" x2="551.70" y1="324.55" y2="1.00" stroke="#303030" stroke-width="1.05" stroke-dasharray="3.4 2.347" stroke-dashoffset="0.6"/>
<line x1="133.80" x2="136.00" y1="28.30" y2="28.30" stroke="#333" stroke-width="0.8"/>
<text x="131.60" y="32.00" text-anchor="end" style="font-family:'Liberation Sans',Arial,sans-serif;font-size:10.20px;fill:#4d4d4d;text-rendering:geometricPrecision">Pre rest</text>
<line x1="133.80" x2="136.00" y1="73.17" y2="73.17" stroke="#333" stroke-width="0.8"/>
<text x="131.60" y="77.00" text-anchor="end" style="font-family:'Liberation Sans',Arial,sans-serif;font-size:10.20px;fill:#4d4d4d;text-rendering:geometricPrecision">Post rest</text>
<line x1="133.80" x2="136.00" y1="118.04" y2="118.04" stroke="#333" stroke-width="0.8"/>
<text x="131.60" y="122.00" text-anchor="end" style="font-family:'Liberation Sans',Arial,sans-serif;font-size:10.20px;fill:#4d4d4d;text-rendering:geometricPrecision">Interval to the following note</text>
<line x1="133.80" x2="136.00" y1="162.91" y2="162.91" stroke="#333" stroke-width="0.8"/>
<text x="131.60" y="167.00" text-anchor="end" style="font-family:'Liberation Sans',Arial,sans-serif;font-size:10.20px;fill:#4d4d4d;text-rendering:geometricPrecision">Ground truth MIDI pitch code</text>
<line x1="133.80" x2="136.00" y1="207.78" y2="207.78" stroke="#333" stroke-width="0.8"/>
<text x="131.60" y="212.00" text-anchor="end" style="font-family:'Liberation Sans',Arial,sans-serif;font-size:10.20px;fill:#4d4d4d;text-rendering:geometricPrecision">Interval to the previous note</text>
<line x1="133.80" x2="136.00" y1="252.65" y2="252.65" stroke="#333" stroke-width="0.8"/>
<text x="131.60" y="257.00" text-anchor="end" style="font-family:'Liberation Sans',Arial,sans-serif;font-size:10.20px;fill:#4d4d4d;text-rendering:geometricPrecision">Ground truth duration</text>
<line x1="133.80" x2="136.00" y1="297.52" y2="297.52" stroke="#333" stroke-width="0.8"/>
<text x="131.60" y="301.00" text-anchor="end" style="font-family:'Liberation Sans',Arial,sans-serif;font-size:10.20px;fill:#4d4d4d;text-rendering:geometricPrecision">Repeated note</text>
<line x1="423.70" x2="425.90" y1="28.60" y2="28.60" stroke="#333" stroke-width="0.8"/>
<text x="422.10" y="33.00" text-anchor="end" style="font-family:'Liberation Sans',Arial,sans-serif;font-size:10.10px;fill:#4d4d4d;text-rendering:geometricPrecision">Lip T<tspan dx="-0.90">r</tspan>ill</text>
<line x1="423.70" x2="425.90" y1="59.40" y2="59.40" stroke="#333" stroke-width="0.8"/>
<text x="422.10" y="63.00" text-anchor="end" style="font-family:'Liberation Sans',Arial,sans-serif;font-size:10.10px;fill:#4d4d4d;text-rendering:geometricPrecision">T<tspan dx="-0.90">r</tspan>ill</text>
<line x1="423.70" x2="425.90" y1="90.21" y2="90.21" stroke="#333" stroke-width="0.8"/>
<text x="422.10" y="94.00" text-anchor="end" style="font-family:'Liberation Sans',Arial,sans-serif;font-size:10.10px;fill:#4d4d4d;text-rendering:geometricPrecision">Belt Harsh</text>
<line x1="423.70" x2="425.90" y1="121.01" y2="121.01" stroke="#333" stroke-width="0.8"/>
<text x="422.10" y="125.00" text-anchor="end" style="font-family:'Liberation Sans',Arial,sans-serif;font-size:10.10px;fill:#4d4d4d;text-rendering:geometricPrecision">Breathy</text>
<line x1="423.70" x2="425.90" y1="151.81" y2="151.81" stroke="#333" stroke-width="0.8"/>
<text x="422.10" y="156.00" text-anchor="end" style="font-family:'Liberation Sans',Arial,sans-serif;font-size:10.10px;fill:#4d4d4d;text-rendering:geometricPrecision">Slow Legato</text>
<line x1="423.70" x2="425.90" y1="182.42" y2="182.42" stroke="#333" stroke-width="0.8"/>
<text x="422.10" y="186.00" text-anchor="end" style="font-family:'Liberation Sans',Arial,sans-serif;font-size:10.10px;fill:#4d4d4d;text-rendering:geometricPrecision">F<tspan dx="-0.40">a</tspan>st Articulated</text>
<line x1="423.70" x2="425.90" y1="213.72" y2="213.72" stroke="#333" stroke-width="0.8"/>
<text x="422.10" y="218.00" text-anchor="end" style="font-family:'Liberation Sans',Arial,sans-serif;font-size:10.10px;fill:#4d4d4d;text-rendering:geometricPrecision">Messa DiV<tspan dx="-0.70">o</tspan>ce</text>
<line x1="423.70" x2="425.90" y1="244.22" y2="244.22" stroke="#333" stroke-width="0.8"/>
<text x="422.10" y="248.00" text-anchor="end" style="font-family:'Liberation Sans',Arial,sans-serif;font-size:10.10px;fill:#4d4d4d;text-rendering:geometricPrecision">Straight T<tspan dx="-0.90">o</tspan>ne</text>
<line x1="423.70" x2="425.90" y1="275.02" y2="275.02" stroke="#333" stroke-width="0.8"/>
<text x="422.10" y="279.00" text-anchor="end" style="font-family:'Liberation Sans',Arial,sans-serif;font-size:10.10px;fill:#4d4d4d;text-rendering:geometricPrecision">F<tspan dx="-0.30">u</tspan>ll V<tspan dx="-0.70">o</tspan>ice</text>
<line x1="423.70" x2="425.90" y1="305.83" y2="305.83" stroke="#333" stroke-width="0.8"/>
<text x="422.10" y="310.00" text-anchor="end" style="font-family:'Liberation Sans',Arial,sans-serif;font-size:10.10px;fill:#4d4d4d;text-rendering:geometricPrecision">Molto Vibrato</text>
<line x1="144.60" x2="144.60" y1="324.55" y2="326.75" stroke="#333" stroke-width="0.8"/>
<text x="144.60" y="335.75" text-anchor="middle" style="font-family:'Liberation Sans',Arial,sans-serif;font-size:10.15px;fill:#4d4d4d;text-rendering:geometricPrecision">-0.2</text>
<line x1="180.40" x2="180.40" y1="324.55" y2="326.75" stroke="#333" stroke-width="0.8"/>
<text x="180.40" y="335.75" text-anchor="middle" style="font-family:'Liberation Sans',Arial,sans-serif;font-size:10.15px;fill:#4d4d4d;text-rendering:geometricPrecision">-0.1</text>
<line x1="216.20" x2="216.20" y1="324.55" y2="326.75" stroke="#333" stroke-width="0.8"/>
<text x="216.20" y="335.75" text-anchor="middle" style="font-family:'Liberation Sans',Arial,sans-serif;font-size:10.15px;fill:#4d4d4d;text-rendering:geometricPrecision">0.0</text>
<line x1="252.00" x2="252.00" y1="324.55" y2="326.75" stroke="#333" stroke-width="0.8"/>
<text x="252.00" y="335.75" text-anchor="middle" style="font-family:'Liberation Sans',Arial,sans-serif;font-size:10.15px;fill:#4d4d4d;text-rendering:geometricPrecision">0.1</text>
<line x1="287.80" x2="287.80" y1="324.55" y2="326.75" stroke="#333" stroke-width="0.8"/>
<text x="287.80" y="335.75" text-anchor="middle" style="font-family:'Liberation Sans',Arial,sans-serif;font-size:10.15px;fill:#4d4d4d;text-rendering:geometricPrecision">0.2</text>
<line x1="323.60" x2="323.60" y1="324.55" y2="326.75" stroke="#333" stroke-width="0.8"/>
<text x="323.60" y="335.75" text-anchor="middle" style="font-family:'Liberation Sans',Arial,sans-serif;font-size:10.15px;fill:#4d4d4d;text-rendering:geometricPrecision">0.3</text>
<line x1="480.30" x2="480.30" y1="324.55" y2="326.75" stroke="#333" stroke-width="0.8"/>
<text x="480.30" y="335.75" text-anchor="middle" style="font-family:'Liberation Sans',Arial,sans-serif;font-size:10.15px;fill:#4d4d4d;text-rendering:geometricPrecision">-0.4</text>
<line x1="551.70" x2="551.70" y1="324.55" y2="326.75" stroke="#333" stroke-width="0.8"/>
<text x="551.70" y="335.75" text-anchor="middle" style="font-family:'Liberation Sans',Arial,sans-serif;font-size:10.15px;fill:#4d4d4d;text-rendering:geometricPrecision">0.0</text>
<line x1="623.10" x2="623.10" y1="324.55" y2="326.75" stroke="#333" stroke-width="0.8"/>
<text x="623.10" y="335.75" text-anchor="middle" style="font-family:'Liberation Sans',Arial,sans-serif;font-size:10.15px;fill:#4d4d4d;text-rendering:geometricPrecision">0.4</text>
<text transform="translate(233.75,346.95) scale(1,1.1)" text-anchor="middle" style="font-family:'Liberation Sans',Arial,sans-serif;font-size:9.7px;font-weight:bold;fill:#000;text-rendering:geometricPrecision">Effect</text>
<text transform="translate(554.95,346.95) scale(1,1.1)" text-anchor="middle" style="font-family:'Liberation Sans',Arial,sans-serif;font-size:9.7px;font-weight:bold;fill:#000;text-rendering:geometricPrecision">Effect</text>
<text transform="translate(234.65,373.5) scale(0.96,1.02)" text-anchor="middle" style="font-family:'Liberation Serif','Times New Roman',serif;font-size:15.6px;fill:#111;text-rendering:geometricPrecision">(a)</text>
<text transform="translate(554.55,373.5) scale(0.96,1.02)" text-anchor="middle" style="font-family:'Liberation Serif','Times New Roman',serif;font-size:15.6px;fill:#111;text-rendering:geometricPrecision">(b)</text>
</svg>
</body></html>
